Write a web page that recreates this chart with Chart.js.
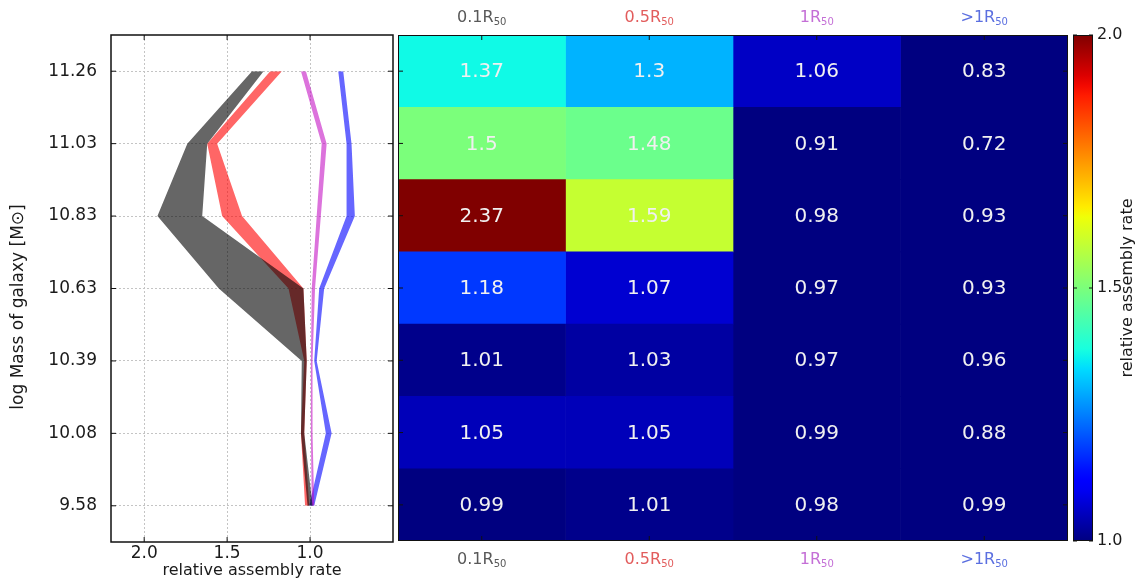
<!DOCTYPE html>
<html><head><meta charset="utf-8">
<script src="https://cdn.jsdelivr.net/npm/chart.js@4.4.1/dist/chart.umd.min.js"></script>
<style>
html,body{margin:0;padding:0;background:#fff;width:1143px;height:584px;overflow:hidden}
canvas{position:absolute;top:0}
#cl{left:0}
#ch{left:398px}
#cb{left:1068px}
</style></head><body>
<canvas id="cl" width="400" height="584"></canvas>
<canvas id="ch" width="670" height="584"></canvas>
<canvas id="cb" width="75" height="584"></canvas>
<script>
// ---------- data ----------
const massLabels = ['11.26','11.03','10.83','10.63','10.39','10.08','9.58'];
const colNames = ['0.1R','0.5R','1R','>1R'];
const colSub = '50';
// left panel bands (relative assembly rate, low / high edge)
const r01Lo = [1.28, 1.62, 1.65, 1.04, 1.02, 1.035, 0.985];
const r01Hi = [1.35, 1.74, 1.92, 1.55, 1.05, 1.055, 1.015];
const r05Lo = [1.17, 1.56, 1.41, 1.04, 1.02, 1.035, 1.005];
const r05Hi = [1.24, 1.62, 1.53, 1.13, 1.035, 1.055, 1.03];
const r1Lo  = [1.025, 0.90, 0.935, 0.97, 0.985, 0.985, 0.975];
const r1Hi  = [1.055, 0.93, 0.96, 0.99, 0.995, 0.995, 0.99];
const rOutLo = [0.80, 0.75, 0.73, 0.915, 0.96, 0.87, 0.975];
const rOutHi = [0.83, 0.78, 0.78, 0.945, 0.975, 0.905, 1.005];
const xTicks = [1.0, 1.5, 2.0];
// heatmap values (rows top to bottom)
const heat01  = [1.37, 1.5, 2.37, 1.18, 1.01, 1.05, 0.99];
const heat05  = [1.3, 1.48, 1.59, 1.07, 1.03, 1.05, 1.01];
const heat1   = [1.06, 0.91, 0.98, 0.97, 0.97, 0.99, 0.98];
const heatOut = [0.83, 0.72, 0.93, 0.93, 0.96, 0.88, 0.99];
const cbarTicks = [1.0, 1.5, 2.0];

// ---------- styles ----------
const FONT = 'DejaVu Sans';
Chart.defaults.font.family = FONT;
Chart.defaults.color = '#1a1a1a';
const colColors = ['#585858', '#e25c5c', '#c46fd6', '#5b6fe0'];
const bandColors = ['rgba(0,0,0,0.6)', 'rgba(255,0,0,0.6)', 'rgba(191,0,191,0.55)', 'rgba(0,0,255,0.6)'];

const JET = {
  r: [[0,0],[0.35,0],[0.66,1],[0.89,1],[1,0.5]],
  g: [[0,0],[0.125,0],[0.375,1],[0.64,1],[0.91,0],[1,0]],
  b: [[0,0.5],[0.11,1],[0.34,1],[0.65,0],[1,0]]
};
function seg(pts, t) {
  for (let i = 1; i < pts.length; i++) {
    if (t <= pts[i][0]) {
      const [x0, y0] = pts[i-1], [x1, y1] = pts[i];
      return y0 + (y1 - y0) * (t - x0) / (x1 - x0);
    }
  }
  return pts[pts.length-1][1];
}
function jet(v) {
  const t = Math.min(1, Math.max(0, v - 1));
  return `rgb(${Math.round(seg(JET.r,t)*255)},${Math.round(seg(JET.g,t)*255)},${Math.round(seg(JET.b,t)*255)})`;
}
function tickLine(ctx, x1, y1, x2, y2) { ctx.beginPath(); ctx.moveTo(x1, y1); ctx.lineTo(x2, y2); ctx.stroke(); }

// ---------- left panel ----------
function band(lo, hi, color) {
  const common = {borderWidth: 0, pointRadius: 0, tension: 0, backgroundColor: color, borderColor: color};
  return [Object.assign({data: lo, fill: false}, common), Object.assign({data: hi, fill: '-1'}, common)];
}
const frameLeft = {
  id: 'frameLeft',
  afterDraw(c) {
    const {ctx, chartArea: a} = c;
    ctx.save();
    ctx.strokeStyle = '#111';
    ctx.lineWidth = 1;
    const xs = c.scales.x, ys = c.scales.y;
    xs.ticks.forEach(t => { const p = xs.getPixelForValue(t.value); tickLine(ctx, p, a.top, p, a.top + 5); tickLine(ctx, p, a.bottom, p, a.bottom - 5); });
    ys.ticks.forEach((t, i) => { const p = ys.getPixelForTick(i); tickLine(ctx, a.left, p, a.left + 5, p); tickLine(ctx, a.right, p, a.right - 5, p); });
    ctx.lineWidth = 1.5;
    ctx.strokeRect(a.left, a.top, a.right - a.left, a.bottom - a.top);
    // y-axis title
    ctx.translate(19, 307);
    ctx.rotate(-Math.PI / 2);
    ctx.font = `17px ${FONT}`;
    ctx.fillStyle = '#1a1a1a';
    ctx.textAlign = 'center';
    ctx.textBaseline = 'middle';
    ctx.fillText('log Mass of galaxy [M\u2299]', 0, 0);
    ctx.restore();
  }
};
new Chart(document.getElementById('cl'), {
  type: 'line',
  data: {
    labels: massLabels,
    datasets: [
      ...band(r01Lo, r01Hi, bandColors[0]),
      ...band(r05Lo, r05Hi, bandColors[1]),
      ...band(r1Lo, r1Hi, bandColors[2]),
      ...band(rOutLo, rOutHi, bandColors[3])
    ]
  },
  options: {
    responsive: false, animation: false, indexAxis: 'y',
    layout: {padding: {top: 35, right: 7, left: 0, bottom: 0}},
    plugins: {legend: {display: false}, tooltip: {enabled: false}},
    scales: {
      x: {
        type: 'linear', reverse: true, min: 0.5, max: 2.2,
        afterBuildTicks: s => { s.ticks = xTicks.map(v => ({value: v})); },
        afterFit: s => { s.height = 42; },
        ticks: {padding: 1, font: {size: 17}, color: '#1a1a1a', maxRotation: 0, callback: v => Number(v).toFixed(1)},
        grid: {color: '#c4c4c4', lineWidth: 1, drawTicks: false},
        border: {display: false, dash: [2, 2]},
        title: {display: true, text: 'relative assembly rate', font: {size: 16}, color: '#1a1a1a', padding: {top: 0, bottom: 4}}
      },
      y: {
        type: 'category', offset: true,
        afterFit: s => { s.width = 111; },
        ticks: {padding: 14, font: {size: 17}, color: '#1a1a1a'},
        grid: {color: '#c4c4c4', lineWidth: 1, drawTicks: false},
        border: {display: false, dash: [2, 2]}
      }
    }
  },
  plugins: [frameLeft]
});

// ---------- heatmap ----------
const heatCols = [heat01, heat05, heat1, heatOut];
function drawColLabel(ctx, name, sub, cx, cy, color) {
  ctx.font = `16px ${FONT}`;
  const w1 = ctx.measureText(name).width;
  ctx.font = `10px ${FONT}`;
  const w2 = ctx.measureText(sub).width;
  const x0 = cx - (w1 + w2) / 2;
  ctx.fillStyle = color;
  ctx.textAlign = 'left';
  ctx.textBaseline = 'middle';
  ctx.font = `16px ${FONT}`;
  ctx.fillText(name, x0, cy);
  ctx.font = `10px ${FONT}`;
  ctx.fillText(sub, x0 + w1, cy + 4);
}
const heatText = {
  id: 'heatText',
  afterDatasetsDraw(c) {
    const {ctx, chartArea: a} = c;
    ctx.save();
    ctx.font = `20px ${FONT}`;
    ctx.fillStyle = '#f0f0f0';
    ctx.textAlign = 'center';
    ctx.textBaseline = 'middle';
    c.data.datasets.forEach((ds, di) => {
      c.getDatasetMeta(di).data.forEach((el, i) => {
        ctx.fillText(String(heatCols[di][i]), (el.x + el.base) / 2, el.y + 1);
      });
    });
    // frame + ticks
    ctx.strokeStyle = '#111';
    ctx.lineWidth = 1;
    const xs = c.scales.x, ys = c.scales.y;
    heatCols.forEach((v, ci) => { const p = xs.getPixelForValue(ci + 0.5); tickLine(ctx, p, a.top, p, a.top + 5); tickLine(ctx, p, a.bottom, p, a.bottom - 5); });
    massLabels.forEach((l, i) => { const p = ys.getPixelForValue(i); tickLine(ctx, a.left, p, a.left + 5, p); tickLine(ctx, a.right, p, a.right - 5, p); });
    ctx.strokeRect(a.left + 0.5, a.top + 0.5, a.right - a.left - 1, a.bottom - a.top - 1);
    // column labels, centred on each column
    colNames.forEach((n, i) => {
      const cx = xs.getPixelForValue(i + 0.5);
      drawColLabel(ctx, n, colSub, cx, 18, colColors[i]);
      drawColLabel(ctx, n, colSub, cx, 560, colColors[i]);
    });
    ctx.restore();
  }
};
new Chart(document.getElementById('ch'), {
  type: 'bar',
  data: {
    labels: massLabels,
    datasets: heatCols.map((vals, c) => ({
      data: vals.map(() => [c, c + 1]),
      backgroundColor: vals.map(jet),
      borderWidth: 0, barPercentage: 1, categoryPercentage: 1, grouped: false
    }))
  },
  options: {
    responsive: false, animation: false, indexAxis: 'y',
    layout: {padding: {top: 35, bottom: 43, left: 0, right: 0}},
    plugins: {legend: {display: false}, tooltip: {enabled: false}},
    scales: {
      x: {type: 'linear', min: 0, max: 4, display: false},
      y: {type: 'category', display: false}
    }
  },
  plugins: [heatText]
});

// ---------- colorbar ----------
const cbarPlugin = {
  id: 'cbarPlugin',
  afterDraw(c) {
    const {ctx, chartArea: a} = c;
    ctx.save();
    ctx.strokeStyle = '#111';
    ctx.lineWidth = 1;
    const ys = c.scales.y;
    cbarTicks.forEach(v => { const p = ys.getPixelForValue(v); tickLine(ctx, a.right, p, a.right - 4, p); tickLine(ctx, a.left, p, a.left + 4, p); });
    ctx.strokeRect(a.left + 0.5, a.top + 0.5, a.right - a.left - 1, a.bottom - a.top - 1);
    ctx.translate(60, (a.top + a.bottom) / 2);
    ctx.rotate(-Math.PI / 2);
    ctx.font = `16px ${FONT}`;
    ctx.fillStyle = '#1a1a1a';
    ctx.textAlign = 'center';
    ctx.textBaseline = 'middle';
    ctx.fillText('relative assembly rate', 0, 0);
    ctx.restore();
  }
};
new Chart(document.getElementById('cb'), {
  type: 'bar',
  data: {
    labels: [''],
    datasets: [{
      data: [[cbarTicks[0], cbarTicks[cbarTicks.length - 1]]],
      backgroundColor: (context) => {
        const a = context.chart.chartArea;
        if (!a) return '#000080';
        const g = context.chart.ctx.createLinearGradient(0, a.bottom, 0, a.top);
        for (let i = 0; i <= 50; i++) g.addColorStop(i / 50, jet(1 + i / 50));
        return g;
      },
      borderWidth: 0, barPercentage: 1, categoryPercentage: 1
    }]
  },
  options: {
    responsive: false, animation: false,
    layout: {padding: {top: 35, bottom: 43, left: 5, right: 0}},
    plugins: {legend: {display: false}, tooltip: {enabled: false}},
    scales: {
      x: {display: false},
      y: {
        type: 'linear', position: 'right', min: 1, max: 2,
        afterBuildTicks: s => { s.ticks = cbarTicks.map(v => ({value: v})); },
        afterFit: s => { s.width = 50; },
        ticks: {padding: 4, font: {size: 16}, color: '#1a1a1a', callback: v => Number(v).toFixed(1)},
        grid: {display: false, drawTicks: false},
        border: {display: false}
      }
    }
  },
  plugins: [cbarPlugin]
});
</script>
</body></html>
